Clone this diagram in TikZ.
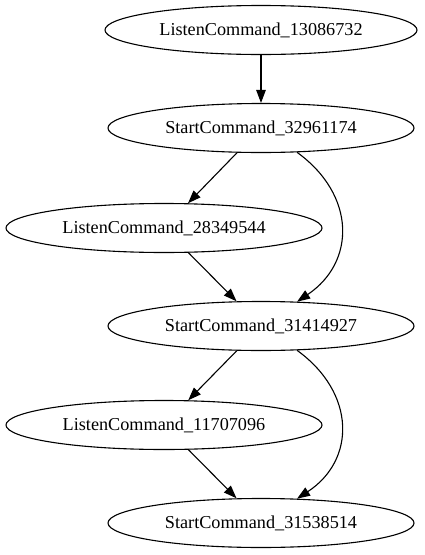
\documentclass[tikz,border=0pt]{standalone}
\usepackage{fontspec}
\setmainfont{Liberation Serif}
\usetikzlibrary{shapes.geometric,arrows.meta}
\begin{document}
\begin{tikzpicture}[x=1pt,y=-1pt,
  gnode/.style={draw,ellipse,line width=1.1pt,inner sep=0pt,minimum height=49pt,font=\fontsize{18.2}{20}\selectfont},
  gedge/.style={line width=1.1pt,-{Triangle[length=13pt,width=9.5pt]}}]
\useasboundingbox (0,0) rectangle (425,555);
\node[gnode,minimum width=312pt] (n1) at (261,30) {ListenCommand\_13086732};
\node[gnode,minimum width=306pt] (n2) at (261,128) {StartCommand\_32961174};
\node[gnode,minimum width=316pt] (n3) at (164,228) {ListenCommand\_28349544};
\node[gnode,minimum width=306pt] (n4) at (261,326) {StartCommand\_31414927};
\node[gnode,minimum width=316pt] (n5) at (164,425) {ListenCommand\_11707096};
\node[gnode,minimum width=306pt] (n6) at (261,523) {StartCommand\_31538514};
\draw[gedge] (n1) -- (n2);
\draw[gedge] (n2) -- (n3);
\draw[gedge] (n3) -- (n4);
\draw[gedge] (n2.-34) .. controls (356,195) and (356,262) .. (n4.34);
\draw[gedge] (n4) -- (n5);
\draw[gedge] (n5) -- (n6);
\draw[gedge] (n4.-34) .. controls (356,393) and (356,460) .. (n6.34);
\end{tikzpicture}
\end{document}
